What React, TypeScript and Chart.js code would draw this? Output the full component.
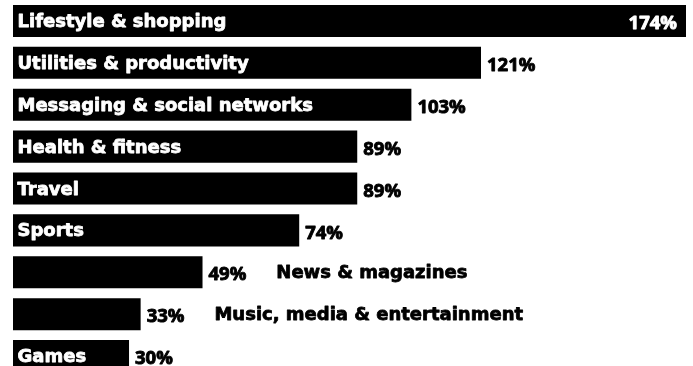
import React, { useEffect, useRef } from "react";
import { Chart, registerables } from "chart.js";

Chart.register(...registerables);

const categories = [
  "Lifestyle & shopping",
  "Utilities & productivity",
  "Messaging & social networks",
  "Health & fitness",
  "Travel",
  "Sports",
  "News & magazines",
  "Music, media & entertainment",
  "Games",
];
const values = [174, 121, 103, 89, 89, 74, 49, 33, 30];
const valueLabels = ["174%", "121%", "103%", "89%", "89%", "74%", "49%", "33%", "30%"];

const LABEL_FONT = "bold 18px 'DejaVu Sans'";
const VALUE_FONT = "bold 18.5px 'Open Sans'";

function boldText(ctx: any, text: string, x: number, y: number, color: string, w: number) {
  ctx.fillStyle = color;
  ctx.strokeStyle = color;
  ctx.lineWidth = w;
  ctx.lineJoin = "round";
  ctx.strokeText(text, x, y);
  ctx.fillText(text, x, y);
}

const labelPlugin = {
  id: "barLabels",
  afterDatasetsDraw(chart: any) {
    const ctx = chart.ctx;
    const meta = chart.getDatasetMeta(0);
    const area = chart.chartArea;
    ctx.save();
    meta.data.forEach((bar: any, i: number) => {
      const x0 = bar.base;
      const x1 = bar.x;
      const yc = bar.y;
      const barW = x1 - x0;
      ctx.font = LABEL_FONT;
      const lw = ctx.measureText(categories[i]).width;
      ctx.font = VALUE_FONT;
      const vw = ctx.measureText(valueLabels[i]).width;
      const valueInside = x1 + 6 + vw > area.right;
      let valueEnd: number;
      ctx.textBaseline = "alphabetic";
      if (valueInside) {
        ctx.textAlign = "right";
        boldText(ctx, valueLabels[i], x1 - 9, yc + 8.2, "#ffffff", 0.9);
        valueEnd = x1;
      } else {
        ctx.textAlign = "left";
        boldText(ctx, valueLabels[i], x1 + 6, yc + 8.2, "#000000", 0.9);
        valueEnd = x1 + 6 + vw;
      }
      ctx.font = LABEL_FONT;
      ctx.textAlign = "left";
      if (lw + 10 <= barW) {
        boldText(ctx, categories[i], x0 + 4.5, yc + 6, "#ffffff", 0.8);
      } else {
        boldText(ctx, categories[i], valueEnd + 30, yc + 6, "#000000", 0.8);
      }
    });
    ctx.restore();
  },
};

export default function App() {
  const ref = useRef<HTMLCanvasElement | null>(null);
  useEffect(() => {
    if (!ref.current) return;
    const chart = new Chart(ref.current, {
      type: "bar",
      data: {
        labels: categories,
        datasets: [
          {
            data: values,
            backgroundColor: "#000000",
            borderWidth: 0,
            barPercentage: 0.765,
            categoryPercentage: 1,
          },
        ],
      },
      options: {
        indexAxis: "y",
        animation: false,
        responsive: true,
        maintainAspectRatio: false,
        layout: { padding: { left: 13, right: 7, top: 0, bottom: 0 } },
        plugins: { legend: { display: false }, tooltip: { enabled: false } },
        scales: {
          x: { display: false, min: 0, max: 174 },
          y: { display: false },
        },
      },
      plugins: [labelPlugin],
    });
    return () => chart.destroy();
  }, []);
  return (
    <div style={{ position: "fixed", left: 0, top: 0, width: 693, height: 366, overflow: "hidden", background: "#fff" }}>
      <div style={{ position: "relative", width: 693, height: 377 }}>
        <canvas ref={ref} />
      </div>
    </div>
  );
}
